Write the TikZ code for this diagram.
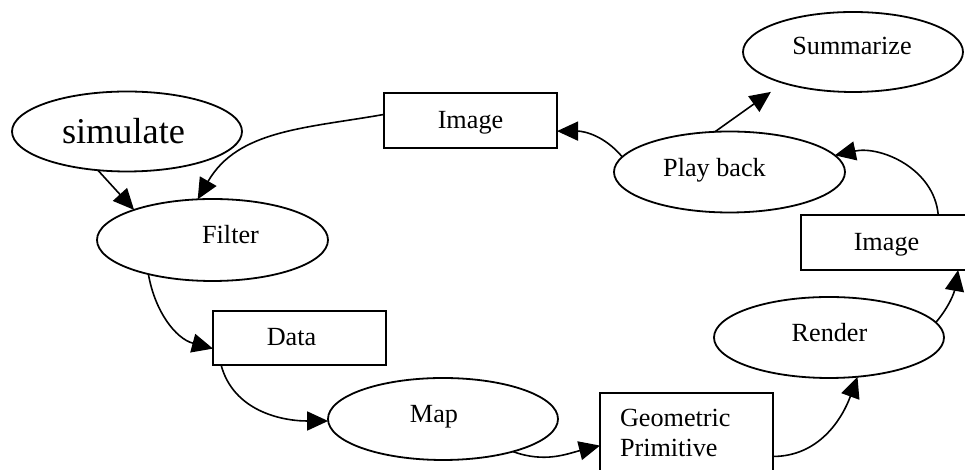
\documentclass[tikz,border=0pt]{standalone}
\usepackage{fontspec}
\setmainfont{Liberation Serif}
\usetikzlibrary{shapes.geometric,arrows.meta,calc}
\begin{document}
\begin{tikzpicture}[x=0.5pt,y=0.5pt,
  proc/.style={ellipse,draw,line width=0.9pt,inner sep=0pt,outer sep=0pt},
  store/.style={rectangle,draw,line width=0.9pt,inner sep=0pt,outer sep=0pt},
  lbl/.style={anchor=base,inner sep=0pt,outer sep=0pt,font=\fontsize{13.1}{15}\selectfont},
  arr/.style={-{Triangle[length=10.5pt,width=9.5pt]},line width=0.8pt}]
\useasboundingbox (0,0) rectangle (965,470);
\clip (0,0) rectangle (965,470);
% shapes
\node[proc,minimum width=115pt,minimum height=40pt] (sim) at (127,338.5) {};
\node[proc,minimum width=115.5pt,minimum height=41pt] (filter) at (212.5,230) {};
\node[proc,minimum width=115.5pt,minimum height=40.5pt] (pb) at (729.5,298) {};
\node[proc,minimum width=110pt,minimum height=40pt] (sum) at (853,418) {};
\node[proc,minimum width=115pt,minimum height=40.5pt] (render) at (829,132.5) {};
\node[proc,minimum width=115pt,minimum height=41pt] (map) at (443,51) {};
\node[store,minimum width=86.5pt,minimum height=27.5pt] (img1) at (470.5,349.5) {};
\node[store,minimum width=85.5pt,minimum height=27.5pt] (img2) at (886.5,227.5) {};
\node[store,minimum width=86.5pt,minimum height=27pt] (data) at (299.5,132) {};
\node[store,minimum width=86.5pt,minimum height=43.5pt] (gp) at (686.5,33.5) {};
% texts
\node[lbl,font=\fontsize{18.15}{20}\selectfont] (simt) at (123.5,326) {simulate};
\node[lbl] (filtert) at (230.5,226) {Filter};
\node[lbl] (pbt) at (714.5,293) {Play back};
\node[lbl] (sumt) at (852,415) {Summarize};
\node[lbl] (rendert) at (829.5,128.3) {Render};
\node[lbl] (mapt) at (434,47) {Map};
\node[lbl] (img1t) at (470.5,341.7) {Image};
\node[lbl] (img2t) at (886.5,219) {Image};
\node[lbl] (datat) at (291.5,124) {Data};
\node[lbl,anchor=base west] (gpt1) at (620,43) {Geometric};
\node[lbl,anchor=base west] (gpt2) at (620,13) {Primitive};
% connectors
\draw[arr] (sim.233.5) -- (filter.159);
\draw[arr] (img1.176) to[out=190,in=60] (filter.110);
\draw[arr] (filter.208) to[out=-80,in=165] (data.187);
\draw[arr] (data.199) to[out=-75,in=180] (map.181);
\draw[arr] (map.-25) to[out=-20,in=194] (gp.186);
\draw[arr] (gp.-13) to[out=0,in=-110] (render.-54);
\draw[arr] (render.8) to[out=50,in=-100] (img2.-21);
\draw[arr] (img2.28.6) to[out=95,in=12] (pb.9);
\draw[arr] (pb.172) to[out=130,in=0] (img1.-7.6);
\draw[arr,shorten >=7.7pt] (pb.110) -- (sum.204.5);
\end{tikzpicture}
\end{document}
